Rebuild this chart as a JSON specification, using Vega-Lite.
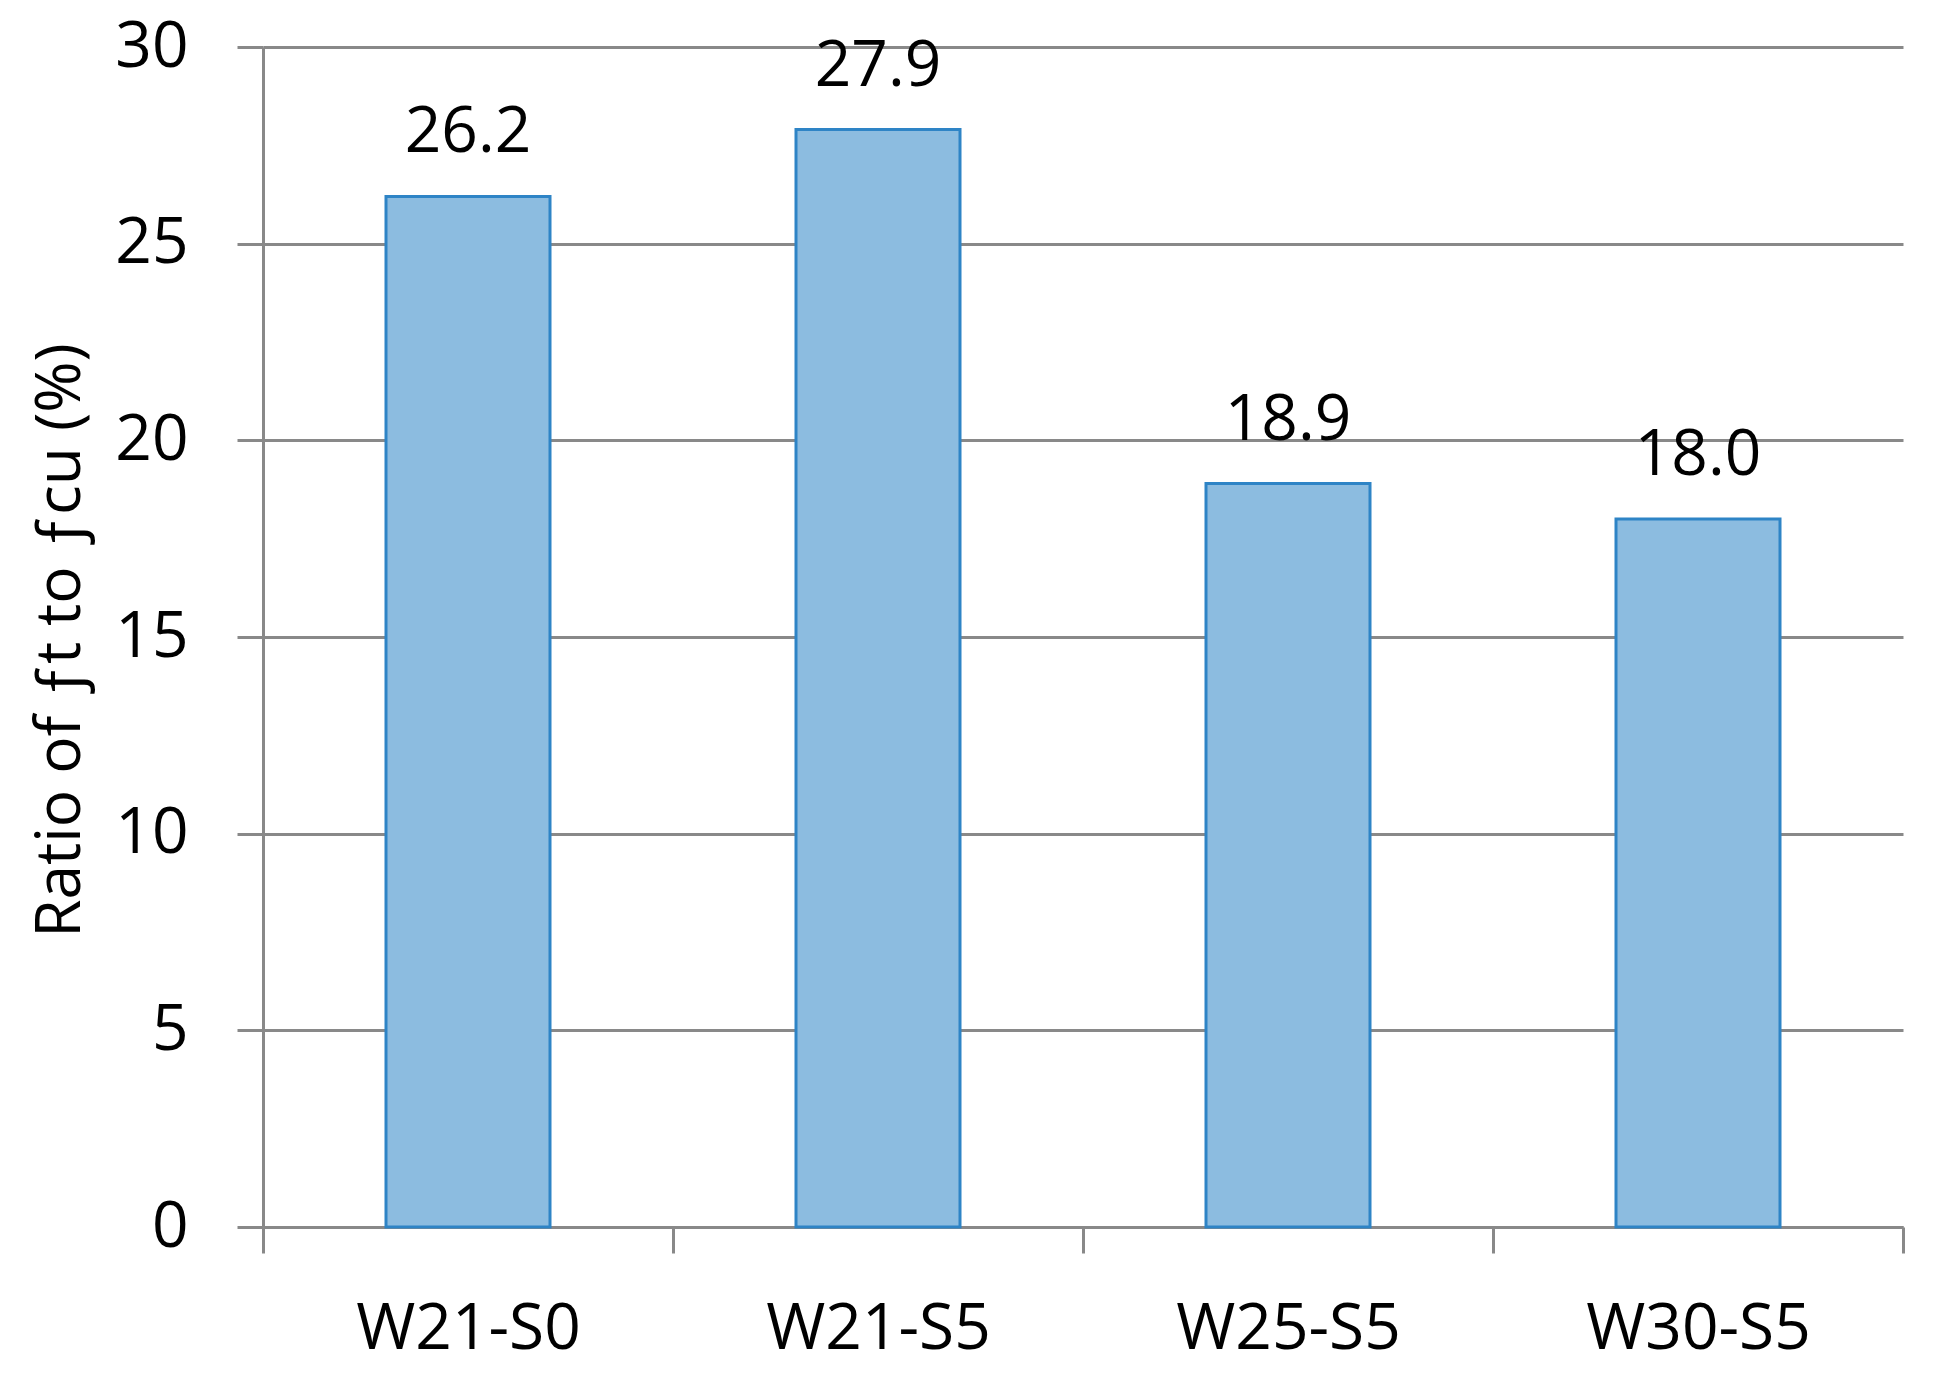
{
  "$schema": "https://vega.github.io/schema/vega-lite/v6.json",
  "autosize": "none",
  "width": 1640,
  "height": 1180,
  "padding": {"left": 263, "top": 47, "right": 32, "bottom": 159},
  "background": "white",
  "config": {
    "view": {"stroke": null},
    "font": "Open Sans",
    "axis": {
      "labelFont": "Open Sans",
      "titleFont": "Open Sans",
      "labelFontSize": 64,
      "titleFontSize": 62,
      "labelColor": "#000000",
      "titleColor": "#000000",
      "domainColor": "#898989",
      "domainWidth": 3,
      "tickColor": "#898989",
      "tickWidth": 3,
      "tickSize": 26,
      "gridColor": "#898989",
      "gridWidth": 3,
      "labelLimit": 600,
      "titleFontWeight": "normal"
    }
  },
  "data": {
    "values": [
      {"mix": "W21-S0", "ratio": 26.2},
      {"mix": "W21-S5", "ratio": 27.9},
      {"mix": "W25-S5", "ratio": 18.9},
      {"mix": "W30-S5", "ratio": 18.0}
    ]
  },
  "encoding": {
    "x": {
      "field": "mix",
      "type": "nominal",
      "sort": null,
      "scale": {"paddingInner": 0, "paddingOuter": 0},
      "axis": {
        "title": null,
        "labelAngle": 0,
        "tickBand": "extent",
        "labelBaseline": "alphabetic",
        "labelPadding": 95,
        "grid": false
      }
    },
    "y": {
      "field": "ratio",
      "type": "quantitative",
      "scale": {"domain": [0, 30], "nice": false},
      "axis": {
        "values": [0, 5, 10, 15, 20, 25, 30],
        "grid": true,
        "labelPadding": 49,
        "title": "Ratio of ƒt to ƒcu (%)",
        "titleAngle": -90,
        "titleAlign": "center",
        "titleBaseline": "middle",
        "titleX": -203,
        "titleY": 593
      }
    }
  },
  "layer": [
    {
      "mark": {"type": "bar", "width": {"band": 0.4}, "fill": "#8cbce0", "stroke": "#2e84c6", "strokeWidth": 3}
    },
    {
      "mark": {"type": "text", "font": "Open Sans", "fontSize": 64, "color": "#000000", "baseline": "alphabetic", "dy": -44},
      "encoding": {"text": {"field": "ratio", "type": "quantitative", "format": ".1f"}}
    }
  ]
}
